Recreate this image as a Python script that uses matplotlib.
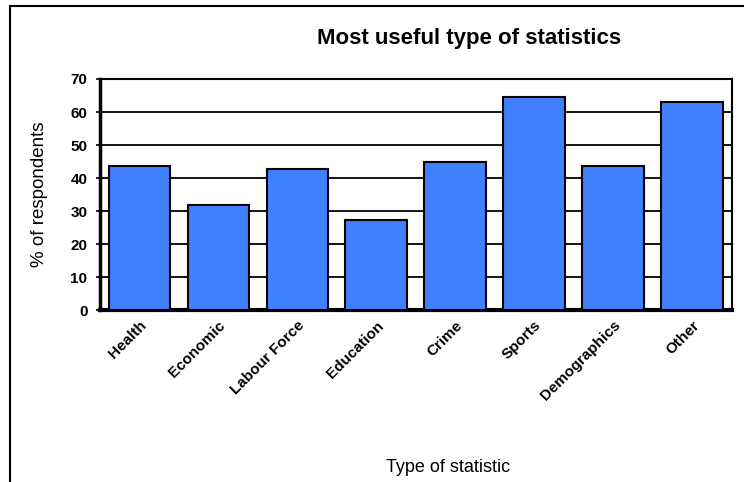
import matplotlib
matplotlib.use("Agg")
import matplotlib.pyplot as plt
from matplotlib.lines import Line2D
import numpy as np

plt.rcParams['font.family'] = ['Liberation Sans', 'DejaVu Sans']

# data
categories = ["Health", "Economic", "Labour Force", "Education",
              "Crime", "Sports", "Demographics", "Other"]
values = [43.7, 31.7, 42.7, 27.2, 44.9, 64.5, 43.5, 63.0]
y_ticks = [0, 10, 20, 30, 40, 50, 60, 70]

bar_color = "#4080ff"

fig = plt.figure(figsize=(7.44, 4.82), dpi=100)
ax = fig.add_axes([0.1344, 0.3568, 0.8488, 0.4793])

x = np.arange(len(categories))
ax.bar(x, values, width=0.78, color=bar_color, edgecolor="black",
       linewidth=1.5, zorder=3)

ax.set_xlim(-0.5, len(categories) - 0.5)
ax.set_ylim(0, 70)
ax.set_yticks(y_ticks)
ax.set_yticklabels([str(v) for v in y_ticks], fontsize=11, fontweight="bold")
ax.yaxis.grid(True, color="black", linewidth=1.3, zorder=1)
ax.set_axisbelow(True)

ax.set_xticks(x)
ax.set_xticklabels(categories, rotation=45, ha="right",
                   rotation_mode="anchor", fontsize=11, fontweight="bold")
ax.tick_params(axis="x", length=0, pad=6)
ax.tick_params(axis="y", length=3, width=1.2, pad=6)

for side in ["top", "right"]:
    ax.spines[side].set_linewidth(1.5)
ax.spines["left"].set_linewidth(2.5)
ax.spines["bottom"].set_linewidth(3)

ax.set_ylabel("% of respondents", fontsize=13.5)
ax.yaxis.set_label_coords(-0.083, 0.5)

fig.text(0.630, 0.921, "Most useful type of statistics", fontsize=16,
         fontweight="bold", ha="center", va="center")
fig.text(0.602, 0.031, "Type of statistic", fontsize=13,
         ha="center", va="center")

# chart frame (only left and top edges are visible in the reference)
fig.add_artist(Line2D([9.5 / 744, 9.5 / 744], [0, 1 - 6 / 482],
                      transform=fig.transFigure, color="black", linewidth=1.5))
fig.add_artist(Line2D([9.5 / 744, 1], [1 - 6 / 482, 1 - 6 / 482],
                      transform=fig.transFigure, color="black", linewidth=1.5))

fig.savefig("out.png", dpi=100)
